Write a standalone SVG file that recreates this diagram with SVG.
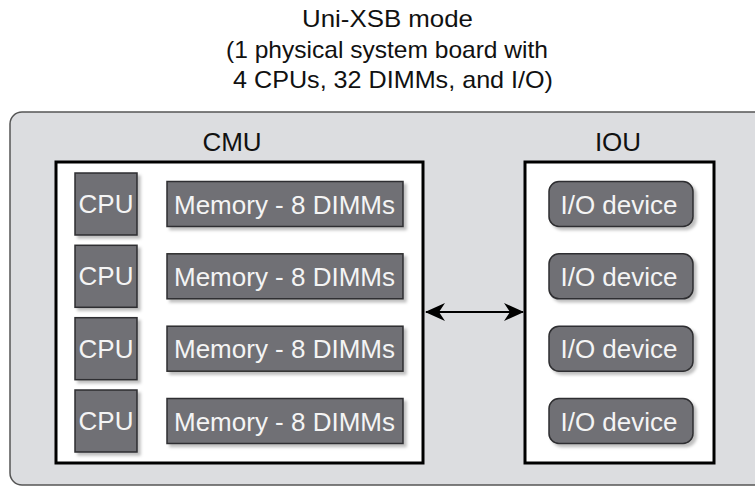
<svg xmlns="http://www.w3.org/2000/svg" width="755" height="486" viewBox="0 0 755 486">
<style>
.t{font-family:"Liberation Sans",Arial,Helvetica,sans-serif;}
.title{font-size:24px;fill:#111;text-anchor:middle;}
.lbl{font-size:26px;fill:#111;text-anchor:middle;}
.in{font-size:26px;fill:#f4f4f4;text-anchor:middle;}
.unit{fill:#fff;stroke:#000;stroke-width:3;}
.box{fill:#707074;stroke:#2e2e30;stroke-width:1.5;filter:url(#sh);}
</style>
<defs>
<filter id="sh" x="-10%" y="-10%" width="130%" height="140%">
<feDropShadow dx="3" dy="3" stdDeviation="1.5" flood-color="#000" flood-opacity="0.25"/>
</filter>
<marker id="ah" viewBox="0 0 20 18" refX="19" refY="9" markerWidth="20" markerHeight="18" markerUnits="userSpaceOnUse" orient="auto-start-reverse">
<path d="M0,0 L20,9 L0,18 L6,9 Z" fill="#000"/>
</marker>
</defs>
<g id="title" class="t">
<text class="title" x="387.5" y="27" textLength="171" lengthAdjust="spacingAndGlyphs">Uni-XSB mode</text>
<text class="title" x="387" y="58" textLength="322" lengthAdjust="spacingAndGlyphs">(1 physical system board with</text>
<text class="title" x="393" y="88" textLength="320" lengthAdjust="spacingAndGlyphs">4 CPUs, 32 DIMMs, and I/O)</text>
</g>
<g id="panel">
<rect x="10" y="112" width="770" height="373" rx="12" fill="#dcdde0" stroke="#555" stroke-width="1.5"/>
</g>
<g id="cmu" class="t">
<text class="lbl" x="232" y="151">CMU</text>
<rect class="unit" x="56" y="162" width="367" height="301"/>
</g>
<g id="iou" class="t">
<text class="lbl" x="618" y="151">IOU</text>
<rect class="unit" x="525" y="162" width="189" height="301"/>
</g>
<g id="cpu1" class="t"><rect class="box" x="75" y="173" width="62" height="62"/><text class="in" x="106" y="213">CPU</text></g>
<g id="cpu2" class="t"><rect class="box" x="75" y="245.3" width="62" height="62"/><text class="in" x="106" y="285.3">CPU</text></g>
<g id="cpu3" class="t"><rect class="box" x="75" y="317.7" width="62" height="62"/><text class="in" x="106" y="357.7">CPU</text></g>
<g id="cpu4" class="t"><rect class="box" x="75" y="390" width="62" height="62"/><text class="in" x="106" y="430">CPU</text></g>
<g id="mem1" class="t"><rect class="box" x="167" y="181.5" width="236" height="45"/><text class="in" x="284.5" y="213.5">Memory - 8 DIMMs</text></g>
<g id="mem2" class="t"><rect class="box" x="167" y="253.8" width="236" height="45"/><text class="in" x="284.5" y="285.8">Memory - 8 DIMMs</text></g>
<g id="mem3" class="t"><rect class="box" x="167" y="326.2" width="236" height="45"/><text class="in" x="284.5" y="358.2">Memory - 8 DIMMs</text></g>
<g id="mem4" class="t"><rect class="box" x="167" y="398.5" width="236" height="45"/><text class="in" x="284.5" y="430.5">Memory - 8 DIMMs</text></g>
<g id="io1" class="t"><rect class="box" x="549" y="181.5" width="144" height="45" rx="10"/><text class="in" x="619" y="213.5">I/O device</text></g>
<g id="io2" class="t"><rect class="box" x="549" y="253.8" width="144" height="45" rx="10"/><text class="in" x="619" y="285.8">I/O device</text></g>
<g id="io3" class="t"><rect class="box" x="549" y="326.2" width="144" height="45" rx="10"/><text class="in" x="619" y="358.2">I/O device</text></g>
<g id="io4" class="t"><rect class="box" x="549" y="398.5" width="144" height="45" rx="10"/><text class="in" x="619" y="430.5">I/O device</text></g>
<g id="connectors">
<line x1="426" y1="312" x2="523" y2="312" stroke="#000" stroke-width="2" marker-start="url(#ah)" marker-end="url(#ah)"/>
</g>
</svg>
